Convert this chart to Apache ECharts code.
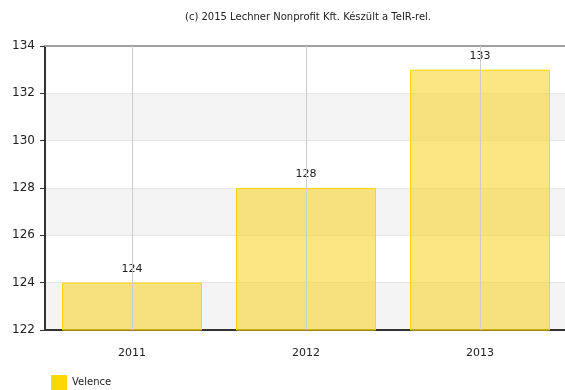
<!DOCTYPE html>
<html>
<head>
<meta charset="utf-8">
<style>
  html, body { margin: 0; padding: 0; background: #fff; }
  #chart { width: 565px; height: 390px; }
</style>
<script src="https://cdn.jsdelivr.net/npm/echarts@6/dist/echarts.min.js"></script>
</head>
<body>
<div id="chart"></div>
<script>
// Population of Velence by year
const years = ['2011', '2012', '2013'];
const velence = [124, 128, 133];
const yTicks = { min: 122, max: 134, step: 2 };

const font = 'DejaVu Sans, Verdana, sans-serif';
const chart = echarts.init(document.getElementById('chart'));

chart.setOption({
  animation: false,
  title: {
    text: '(c) 2015 Lechner Nonprofit Kft. Készült a TeIR-rel.',
    left: 308,
    textAlign: 'center',
    top: 12,
    padding: 0,
    textStyle: { fontFamily: font, fontSize: 10, fontWeight: 'normal', color: '#222' }
  },
  legend: {
    data: [{ name: 'Velence', itemStyle: { color: '#ffd700', borderWidth: 0 } }],
    left: 51,
    top: 375,
    padding: 0,
    itemWidth: 16,
    itemHeight: 15,
    itemGap: 5,
    icon: 'rect',
    textStyle: { fontFamily: font, fontSize: 10, color: '#222' }
  },
  grid: { left: 45, width: 522, top: 46, bottom: 60, outerBoundsMode: 'none', containLabel: false },
  xAxis: [
    {
      type: 'category',
      data: years,
      axisLine: { lineStyle: { color: '#333', width: 2 } },
      axisTick: { alignWithLabel: true, length: 5, lineStyle: { color: '#333' } },
      axisLabel: { fontFamily: font, fontSize: 11, color: '#222', margin: 18 },
      splitLine: { show: false }
    },
    {
      type: 'category',
      data: years,
      position: 'top',
      axisLine: { lineStyle: { color: '#a0a0a0', width: 2 } },
      axisTick: { show: false },
      axisLabel: { show: false }
    }
  ],
  yAxis: {
    type: 'value',
    min: yTicks.min,
    max: yTicks.max,
    interval: yTicks.step,
    axisLine: { show: true, lineStyle: { color: '#333', width: 2 } },
    axisTick: { show: true, length: 5, lineStyle: { color: '#333' } },
    axisLabel: { fontFamily: font, fontSize: 12, color: '#222', margin: 10 },
    splitLine: { show: true, lineStyle: { color: '#e6e6e6', width: 1 } },
    splitArea: { show: true, areaStyle: { color: ['#f4f4f4', '#ffffff'] } }
  },
  series: [
    {
      name: 'Velence',
      type: 'bar',
      data: velence,
      barWidth: 140,
      itemStyle: {
        color: 'rgba(250, 210, 30, 0.55)',
        borderColor: '#ffd700',
        borderWidth: 1
      },
      label: {
        show: true,
        position: 'top',
        distance: 8,
        fontFamily: font,
        fontSize: 11,
        color: '#222'
      },
      markLine: {
        silent: true,
        symbol: 'none',
        label: { show: false },
        lineStyle: { color: '#cccccc', width: 1, type: 'solid' },
        data: years.map(y => ({ xAxis: y }))
      }
    }
  ]
});
</script>
</body>
</html>
